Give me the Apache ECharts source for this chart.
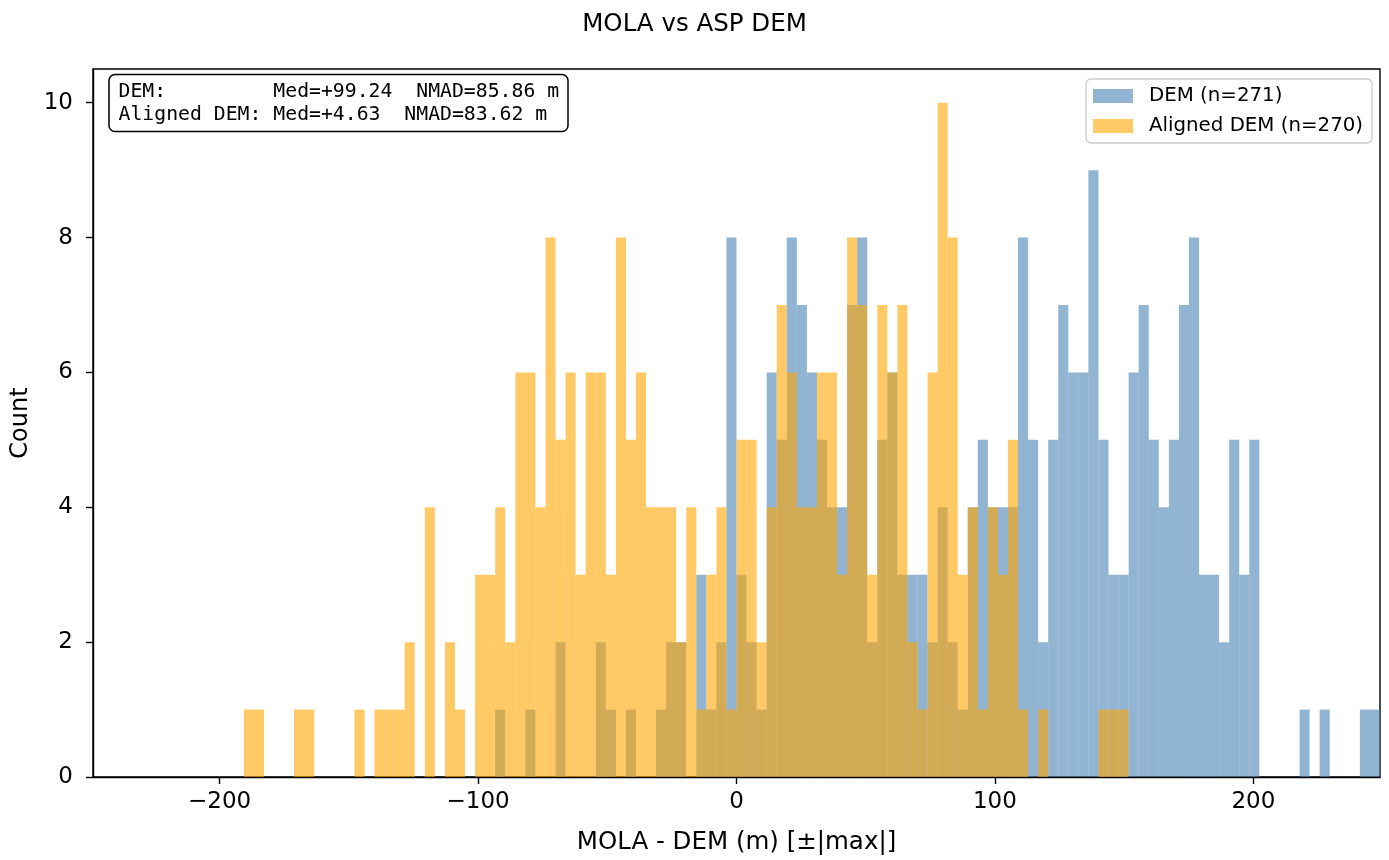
<!DOCTYPE html>
<html>
<head>
<meta charset="utf-8">
<script src="https://cdn.jsdelivr.net/npm/echarts@6/dist/echarts.min.js"></script>
<style>
  html, body { margin: 0; padding: 0; background: #fff; }
  #chart { width: 1389px; height: 860px; }
</style>
</head>
<body>
<div id="chart"></div>
<script>
// ---- data ----
const X_LIMIT = 249;          // ±|max| range of the histogram (m)
const N_BINS = 128;           // number of shared bins across [-X_LIMIT, X_LIMIT]
const seriesNames = ['DEM (n=271)', 'Aligned DEM (n=270)'];
const demCounts = [
  0,0,0,0,0,0,0,0,0,0,0,0,0,0,0,0,
  0,0,0,0,0,0,0,0,0,0,0,0,0,0,0,0,
  0,0,0,0,0,0,0,0,1,0,0,1,0,0,2,0,
  0,0,2,1,0,1,0,0,1,2,2,0,3,1,2,8,
  3,2,1,6,5,8,7,6,5,4,4,7,8,2,5,6,
  3,3,3,2,4,2,1,4,5,4,4,4,8,5,2,5,
  7,6,6,9,5,3,3,6,7,5,4,5,7,8,3,3,
  2,5,3,5,0,0,0,0,1,0,1,0,0,0,1,1
];
const alignedCounts = [
  0,0,0,0,0,0,0,0,0,0,0,0,0,0,0,1,
  1,0,0,0,1,1,0,0,0,0,1,0,1,1,1,2,
  0,4,0,2,1,0,3,3,4,2,6,6,4,8,5,6,
  3,6,6,3,8,5,6,4,4,4,2,4,1,3,4,1,
  5,5,2,4,7,6,4,4,6,6,3,8,7,3,7,6,
  7,2,1,6,10,8,3,4,1,4,3,5,1,0,1,0,
  0,0,0,0,1,1,1,0,0,0,0,0,0,0,0,0,
  0,0,0,0,0,0,0,0,0,0,0,0,0,0,0,0
];
const xTicks = [-200, -100, 0, 100, 200];
const yTicks = [0, 2, 4, 6, 8, 10];
const statLabels = ['DEM:', 'Aligned DEM:'];
const statMedians = ['+99.24', '+4.63'];
const statNmads = ['85.86', '83.62'];

// ---- build ----
const binWidth = 2 * X_LIMIT / N_BINS;
function toBins(counts) {
  const out = [];
  counts.forEach((c, j) => {
    if (c > 0) {
      const x0 = -X_LIMIT + j * binWidth;
      out.push([x0, x0 + binWidth, c]);
    }
  });
  return out;
}
function histRender(color) {
  return function (params, api) {
    const p0 = api.coord([api.value(0), api.value(2)]);
    const p1 = api.coord([api.value(1), 0]);
    return {
      type: 'rect',
      shape: { x: p0[0], y: p0[1], width: p1[0] - p0[0], height: p1[1] - p0[1] },
      style: { fill: color, opacity: 0.6 }
    };
  };
}
const statText = statLabels.map((l, i) => {
  const head = (l + '             ').slice(0, 13);
  return head + 'Med=' + statMedians[i] + '  NMAD=' + statNmads[i] + ' m';
}).join('\n');

const FONT = '"DejaVu Sans", sans-serif';
const chart = echarts.init(document.getElementById('chart'), null, { renderer: 'canvas' });
chart.setOption({
  backgroundColor: '#ffffff',
  animation: false,
  textStyle: { fontFamily: FONT },
  title: {
    text: 'MOLA vs ASP DEM',
    left: 'center',
    top: 7,
    textStyle: { fontFamily: FONT, fontSize: 24.5, fontWeight: 'normal', color: '#000' }
  },
  grid: {
    left: 93, right: 9, top: 69, bottom: 81,
    show: true, borderColor: '#000', borderWidth: 1.4, backgroundColor: 'transparent'
  },
  legend: {
    orient: 'vertical',
    left: 1086, top: 79,
    data: [
      { name: seriesNames[0], itemStyle: { color: '#90B4D2' } },
      { name: seriesNames[1], itemStyle: { color: '#FFC966' } }
    ],
    icon: 'rect',
    itemWidth: 40, itemHeight: 14, itemGap: 10,
    padding: [7, 9, 7, 7],
    backgroundColor: 'rgba(255,255,255,0.8)',
    borderColor: '#cccccc', borderWidth: 1.3, borderRadius: 5,
    textStyle: { fontFamily: FONT, fontSize: 19.8, color: '#000', padding: [0, 0, 0, 11] },
    selectedMode: false
  },
  xAxis: {
    type: 'value',
    min: -X_LIMIT, max: X_LIMIT,
    name: 'MOLA - DEM (m) [\u00b1|max|]',
    nameLocation: 'middle', nameGap: 53,
    nameTextStyle: { fontFamily: FONT, fontSize: 24.5, color: '#000' },
    axisLine: { show: true, onZero: false, lineStyle: { color: '#000', width: 1.4 } },
    axisTick: { show: true, length: 7, lineStyle: { color: '#000', width: 1.4 }, customValues: xTicks },
    axisLabel: {
      fontFamily: FONT, fontSize: 23, color: '#000', margin: 14,
      customValues: xTicks,
      formatter: v => (v < 0 ? '\u2212' + Math.abs(v) : String(v))
    },
    splitLine: { show: false }
  },
  yAxis: {
    type: 'value',
    min: 0, max: 10.5,
    name: 'Count',
    nameLocation: 'middle', nameGap: 58,
    nameTextStyle: { fontFamily: FONT, fontSize: 24, color: '#000' },
    axisLine: { show: true, onZero: false, lineStyle: { color: '#000', width: 1.4 } },
    axisTick: { show: true, length: 7, lineStyle: { color: '#000', width: 1.4 }, customValues: yTicks },
    axisLabel: { fontFamily: FONT, fontSize: 23, color: '#000', margin: 20, customValues: yTicks },
    splitLine: { show: false }
  },
  graphic: [
    {
      type: 'rect', z: 100,
      shape: { x: 109, y: 74.5, width: 459, height: 57, r: 6 },
      style: { fill: '#ffffff', stroke: '#000', lineWidth: 1.5 }
    },
    {
      type: 'text', z: 101, x: 118.5, y: 80,
      style: {
        text: statText, font: '19.8px "DejaVu Sans Mono", monospace',
        fill: '#000', lineHeight: 23.5, verticalAlign: 'top'
      }
    }
  ],
  series: [
    {
      name: seriesNames[0], type: 'custom',
      renderItem: histRender('#4682B4'),
      itemStyle: { color: '#90B4D2' },
      encode: { x: [0, 1], y: 2 },
      data: toBins(demCounts), clip: true, z: 2
    },
    {
      name: seriesNames[1], type: 'custom',
      renderItem: histRender('#FFA500'),
      itemStyle: { color: '#FFC966' },
      encode: { x: [0, 1], y: 2 },
      data: toBins(alignedCounts), clip: true, z: 3
    }
  ]
});
</script>
</body>
</html>
